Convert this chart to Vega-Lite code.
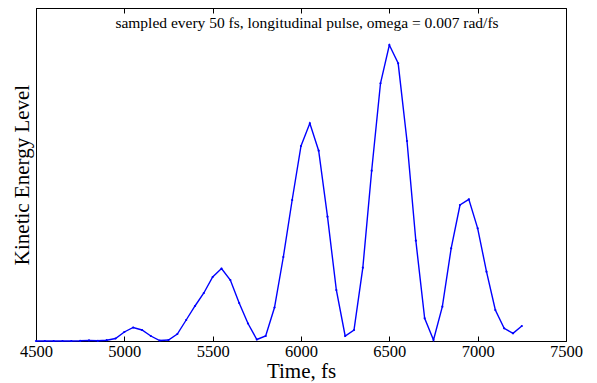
{
  "$schema": "https://vega.github.io/schema/vega-lite/v6.json",
  "width": 530,
  "height": 333,
  "autosize": "none",
  "padding": {"left": 36, "top": 8, "right": 31, "bottom": 42},
  "background": "white",
  "config": {
    "font": "Liberation Serif",
    "view": {"stroke": "black", "strokeWidth": 1},
    "title": {"font": "Liberation Serif", "fontWeight": "normal", "color": "black"},
    "axis": {"grid": false, "domainColor": "black", "tickColor": "black", "labelColor": "black", "titleColor": "black", "titleFontWeight": "normal", "labelFont": "Liberation Serif", "titleFont": "Liberation Serif"}
  },
  "title": {
    "text": "sampled every 50 fs, longitudinal pulse, omega = 0.007 rad/fs",
    "orient": "top",
    "offset": -24,
    "fontSize": 15.5,
    "fontWeight": "normal",
    "font": "Liberation Serif",
    "color": "black",
    "dx": 6
  },
  "data": {
    "values": [
      {"t": 4500, "ke": 0}, {"t": 4550, "ke": 0}, {"t": 4600, "ke": 0}, {"t": 4650, "ke": 0},
      {"t": 4700, "ke": 0}, {"t": 4750, "ke": 0.2}, {"t": 4800, "ke": 0.6}, {"t": 4850, "ke": 0.2},
      {"t": 4900, "ke": 0.8}, {"t": 4950, "ke": 2.5}, {"t": 5000, "ke": 9}, {"t": 5050, "ke": 13.5},
      {"t": 5100, "ke": 11}, {"t": 5150, "ke": 5}, {"t": 5200, "ke": 0.5}, {"t": 5250, "ke": 1},
      {"t": 5300, "ke": 7}, {"t": 5350, "ke": 21}, {"t": 5400, "ke": 35}, {"t": 5450, "ke": 48},
      {"t": 5500, "ke": 64}, {"t": 5550, "ke": 72.5}, {"t": 5600, "ke": 61}, {"t": 5650, "ke": 38},
      {"t": 5700, "ke": 17.5}, {"t": 5750, "ke": 1.5}, {"t": 5800, "ke": 5}, {"t": 5850, "ke": 33.5},
      {"t": 5900, "ke": 84}, {"t": 5950, "ke": 141}, {"t": 6000, "ke": 195}, {"t": 6050, "ke": 217.7},
      {"t": 6100, "ke": 190.3}, {"t": 6150, "ke": 124.3}, {"t": 6200, "ke": 51}, {"t": 6250, "ke": 5},
      {"t": 6300, "ke": 11}, {"t": 6350, "ke": 73.3}, {"t": 6400, "ke": 170.3}, {"t": 6450, "ke": 257.7},
      {"t": 6500, "ke": 296}, {"t": 6550, "ke": 277.7}, {"t": 6600, "ke": 200}, {"t": 6650, "ke": 100.3},
      {"t": 6700, "ke": 22.7}, {"t": 6750, "ke": 1}, {"t": 6800, "ke": 34.3}, {"t": 6850, "ke": 92.7},
      {"t": 6900, "ke": 136}, {"t": 6950, "ke": 141.7}, {"t": 7000, "ke": 112.7}, {"t": 7050, "ke": 69.3},
      {"t": 7100, "ke": 31}, {"t": 7150, "ke": 12.7}, {"t": 7200, "ke": 7.7}, {"t": 7250, "ke": 15}
    ]
  },
  "layer": [
    {
      "mark": {"type": "line", "color": "#0000ff", "strokeWidth": 1.4, "point": {"filled": true, "size": 5, "color": "#0000ff"}},
      "encoding": {
        "x": {
          "field": "t", "type": "quantitative",
          "scale": {"domain": [4500, 7500], "nice": false, "zero": false},
          "axis": {"values": [4500, 5000, 5500, 6000, 6500, 7000, 7500], "format": "d", "title": "Time, fs", "titleFontSize": 21, "labelFontSize": 16.5, "tickSize": -5, "labelPadding": 7, "titlePadding": 1, "labelFlush": false}
        },
        "y": {
          "field": "ke", "type": "quantitative",
          "scale": {"domain": [0, 333], "nice": false},
          "axis": {"title": "Kinetic Energy Level", "titleFontSize": 21, "labels": false, "ticks": false, "titlePadding": 4}
        }
      }
    },
    {
      "mark": {"type": "rule", "opacity": 0},
      "encoding": {
        "x": {
          "field": "t", "type": "quantitative",
          "axis": {"orient": "top", "values": [4500, 5000, 5500, 6000, 6500, 7000, 7500], "labels": false, "tickSize": -5, "title": null}
        }
      }
    }
  ],
  "resolve": {"axis": {"x": "independent"}}
}
